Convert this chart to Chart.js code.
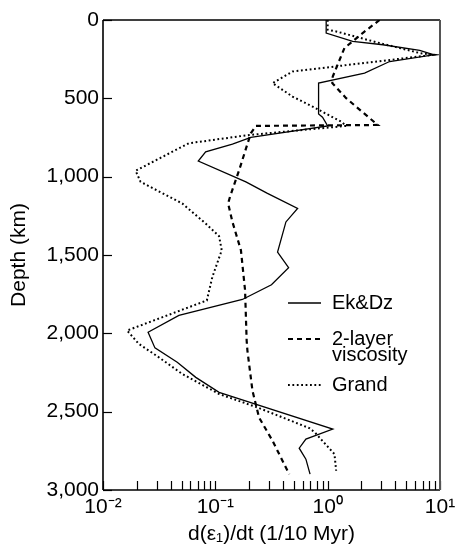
<!DOCTYPE html>
<html>
<head>
<meta charset="utf-8">
<script src="https://cdn.jsdelivr.net/npm/chart.js@4/dist/chart.umd.min.js"></script>
<style>
  html, body { margin: 0; padding: 0; background: #fff; }
  #wrap { width: 461px; height: 548px; position: relative; }
</style>
</head>
<body>
<div id="wrap"><canvas id="c" width="461" height="548"></canvas></div>
<script>
// ---- data ----
const seriesNames = ["Ek&Dz", "2-layer\nviscosity", "Grand"];

const ekDepth = [0, 83, 137, 158, 194, 222, 265, 339, 403, 600, 621, 676, 749, 792, 841, 900, 1033, 1107, 1203, 1289, 1481, 1581, 1690, 1784, 1886, 1993, 2093, 2185, 2281, 2377, 2611, 2675, 2733, 2803, 2899];
const ekValue = [0.97, 0.97, 1.67, 3.1, 6.6, 8.8, 3.56, 2.13, 0.83, 0.83, 0.90, 1.0, 0.207, 0.142, 0.082, 0.0705, 0.187, 0.291, 0.54, 0.425, 0.358, 0.449, 0.316, 0.174, 0.0474, 0.0252, 0.029, 0.0458, 0.067, 0.108, 1.11, 0.64, 0.558, 0.64, 0.697];

const twoDepth = [0, 83, 179, 361, 403, 499, 553, 670, 676, 723, 958, 1129, 1171, 1289, 1470, 1726, 2046, 2110, 2366, 2537, 2686, 2899];
const twoValue = [2.9, 2.05, 1.41, 1.11, 1.10, 1.46, 1.79, 2.79, 0.23, 0.207, 0.163, 0.135, 0.13, 0.142, 0.169, 0.184, 0.19, 0.193, 0.214, 0.245, 0.323, 0.455];

const grandDepth = [0, 62, 73, 147, 211, 222, 258, 329, 403, 489, 553, 649, 676, 734, 787, 962, 1033, 1171, 1299, 1380, 1470, 1641, 1790, 1982, 2067, 2153, 2259, 2387, 2477, 2605, 2633, 2771, 2877];
const grandValue = [1.0, 1.0, 1.19, 2.89, 6.6, 8.8, 3.3, 0.487, 0.323, 0.487, 0.735, 1.32, 1.46, 0.2, 0.058, 0.0195, 0.0216, 0.0507, 0.082, 0.108, 0.114, 0.094, 0.084, 0.0164, 0.0208, 0.0314, 0.0507, 0.108, 0.245, 0.687, 0.77, 1.15, 1.19];

const xDecades = [0.01, 0.1, 1, 10];
const xDecadeLabels = ["10\u207B\u00B2", "10\u207B\u00B9", "10\u2070", "10\u00B9"];
const yTicks = [0, 500, 1000, 1500, 2000, 2500, 3000];

const xTitle = "d(\u03B5\u2081)/dt (1/10 Myr)";
const yTitle = "Depth (km)";

// ---- build ----
function pts(xs, ys) { return xs.map((v, i) => ({ x: v, y: ys[i] })); }

const FONT = "'Liberation Sans', Arial, Helvetica, sans-serif";

const styles = [
  { dash: [], width: 1.3 },
  { dash: [5, 4], width: 2.2 },
  { dash: [1.8, 2.6], width: 2.0 }
];

// minor tick values for the log axis
const xTickValues = [];
for (let d = 0; d < xDecades.length - 1; d++) {
  for (let m = 1; m <= 9; m++) xTickValues.push(xDecades[d] * m);
}
xTickValues.push(xDecades[xDecades.length - 1]);

const boxAndTicks = {
  id: 'boxAndTicks',
  afterDraw(chart) {
    const ctx = chart.ctx, a = chart.chartArea;
    const xs = chart.scales.x, ys = chart.scales.y;
    ctx.save();
    ctx.strokeStyle = '#000';
    ctx.lineWidth = 1.2;
    // inward x ticks
    xTickValues.forEach(v => {
      const px = Math.round(xs.getPixelForValue(v)) + 0.5;
      ctx.beginPath(); ctx.moveTo(px, a.bottom); ctx.lineTo(px, a.bottom - 9); ctx.stroke();
    });
    // inward y ticks
    yTicks.forEach(v => {
      const py = Math.round(ys.getPixelForValue(v)) + 0.5;
      ctx.beginPath(); ctx.moveTo(a.left, py); ctx.lineTo(a.left + 9, py); ctx.stroke();
    });
    // frame
    ctx.lineWidth = 1.6;
    ctx.beginPath();
    ctx.moveTo(a.left, a.top); ctx.lineTo(a.right, a.top);
    ctx.moveTo(a.left, a.top); ctx.lineTo(a.left, a.bottom);
    ctx.moveTo(a.left, a.bottom); ctx.lineTo(a.right, a.bottom);
    ctx.stroke();
    ctx.strokeStyle = '#555';
    ctx.lineWidth = 2;
    ctx.beginPath(); ctx.moveTo(a.right, a.top); ctx.lineTo(a.right, a.bottom); ctx.stroke();

    // legend inside plot
    const lx0 = a.left + 185, lx1 = a.left + 218, tx = a.left + 229;
    const rows = [
      { y: a.top + 283, lines: ["Ek&Dz"] },
      { y: a.top + 319, lines: ["2-layer", "viscosity"] },
      { y: a.top + 365, lines: ["Grand"] }
    ];
    ctx.fillStyle = '#000';
    ctx.font = "20px " + FONT;
    ctx.textBaseline = 'middle';
    ctx.textAlign = 'left';
    rows.forEach((r, i) => {
      ctx.strokeStyle = '#000';
      ctx.lineWidth = styles[i].width;
      ctx.setLineDash(styles[i].dash);
      ctx.beginPath(); ctx.moveTo(lx0, r.y); ctx.lineTo(lx1, r.y); ctx.stroke();
      ctx.setLineDash([]);
      r.lines.forEach((t, j) => ctx.fillText(t, tx, r.y + j * 16));
    });
    ctx.restore();
  }
};

const datasets = [
  pts(ekValue, ekDepth),
  pts(twoValue, twoDepth),
  pts(grandValue, grandDepth)
].map((d, i) => ({
  label: seriesNames[i],
  data: d,
  showLine: true,
  borderColor: '#000',
  backgroundColor: '#000',
  borderWidth: styles[i].width,
  borderDash: styles[i].dash,
  pointRadius: 0,
  tension: 0,
  fill: false
}));

new Chart(document.getElementById('c'), {
  type: 'scatter',
  data: { datasets },
  options: {
    responsive: false,
    animation: false,
    devicePixelRatio: 1,
    layout: { padding: { top: 20, right: 21, left: 0, bottom: 0 } },
    plugins: { legend: { display: false }, tooltip: { enabled: false } },
    scales: {
      x: {
        type: 'logarithmic',
        min: 0.01, max: 10,
        afterBuildTicks(scale) { scale.ticks = xTickValues.map(v => ({ value: v })); },
        afterFit(scale) { scale.height = 58; },
        grid: { display: false, drawTicks: false },
        border: { display: false },
        ticks: {
          autoSkip: false, maxRotation: 0, padding: 5,
          color: '#000',
          font: { family: FONT, size: 21 },
          callback(v) {
            const i = xDecades.findIndex(d => Math.abs(d - v) / d < 1e-6);
            return i >= 0 ? xDecadeLabels[i] : '';
          }
        },
        title: {
          display: true, text: xTitle, color: '#000',
          font: { family: FONT, size: 21 },
          padding: { top: 0, bottom: 1 }
        }
      },
      y: {
        type: 'linear',
        reverse: true,
        min: 0, max: 3000,
        afterBuildTicks(scale) { scale.ticks = yTicks.map(v => ({ value: v })); },
        afterFit(scale) { scale.width = 103; },
        grid: { display: false, drawTicks: false },
        border: { display: false },
        ticks: {
          padding: 4, color: '#000',
          font: { family: FONT, size: 21 },
          callback(v) { return Number(v).toLocaleString('en-US'); }
        },
        title: {
          display: true, text: yTitle, color: '#000',
          font: { family: FONT, size: 21 },
          padding: { top: 7, bottom: 0 }
        }
      }
    }
  },
  plugins: [boxAndTicks]
});
</script>
</body>
</html>
